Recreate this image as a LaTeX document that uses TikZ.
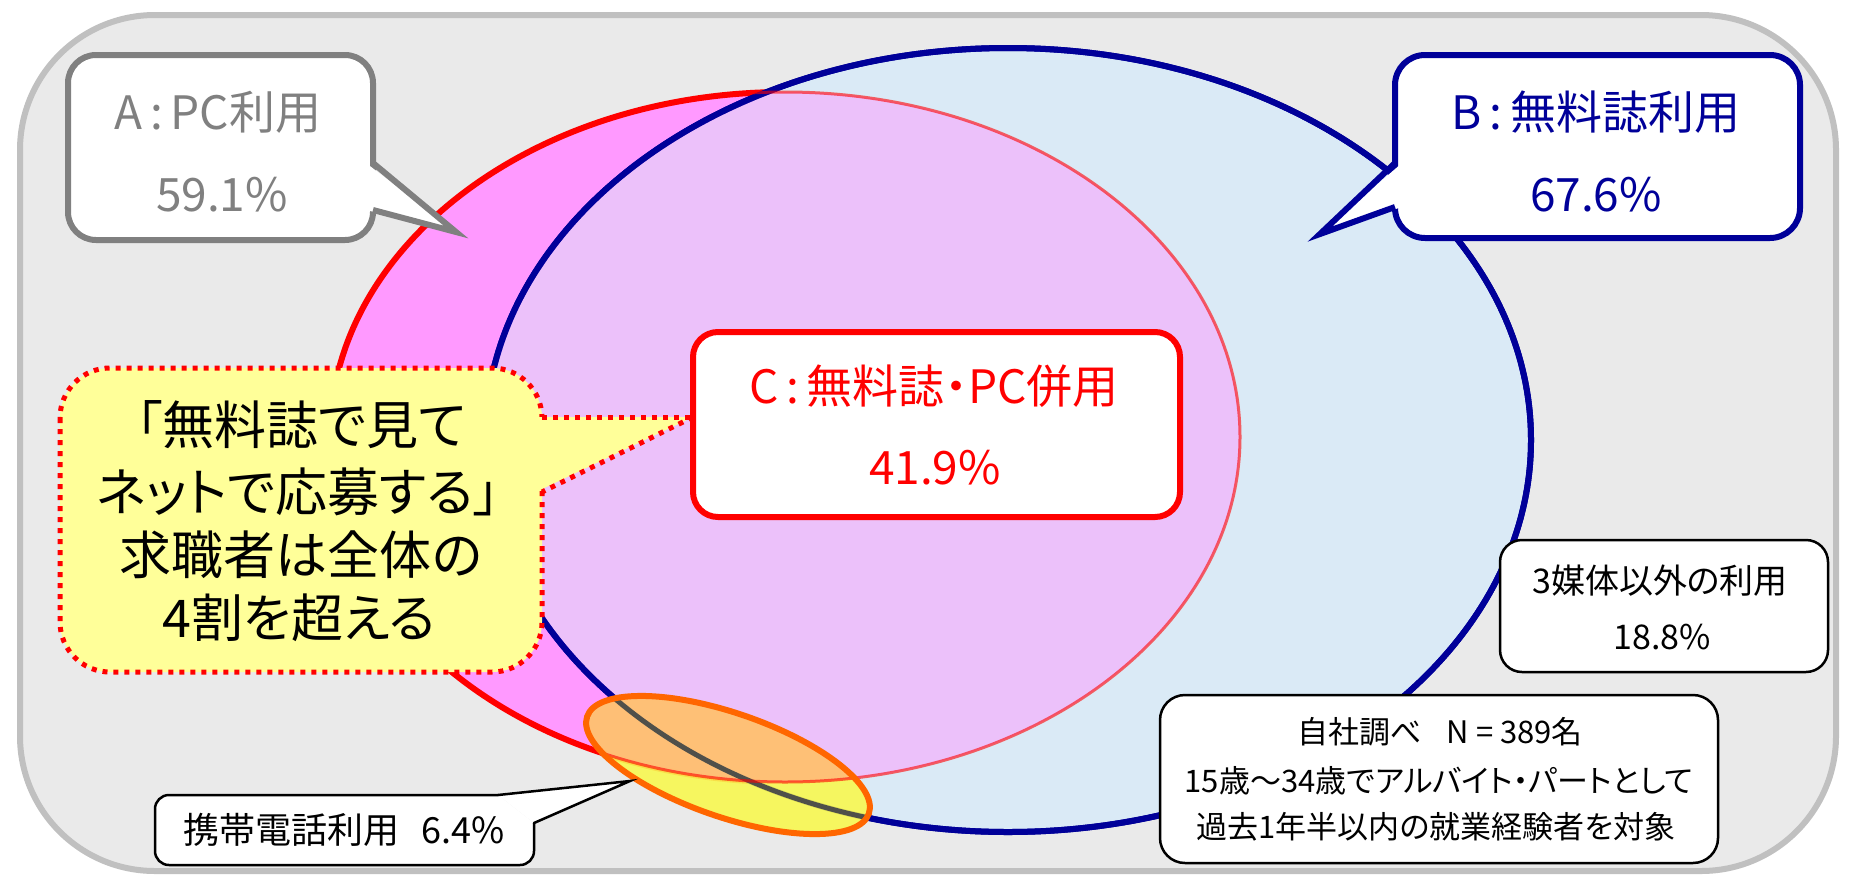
\documentclass[tikz,border=0pt]{standalone}
\usepackage{fontspec}
\setmainfont{Noto Sans CJK JP}[RawFeature=+palt]
\definecolor{framefill}{HTML}{EAEAEA}
\definecolor{framedraw}{HTML}{C0C0C0}
\definecolor{pinkA}{HTML}{FF99FF}
\definecolor{blueB}{HTML}{DAEAF6}
\definecolor{navyB}{HTML}{000099}
\definecolor{grayA}{HTML}{808080}
\definecolor{yelC}{HTML}{FFFF99}
\definecolor{mobfill}{HTML}{F8F850}
\definecolor{moborange}{HTML}{FFBC78}
\definecolor{mobline}{HTML}{FF6600}
\definecolor{darkline}{HTML}{50504A}
\begin{document}
\begin{tikzpicture}[x=1pt,y=-1pt,
  Mrot/.style={rotate around={-19:(728,765)}},
  bigtxt/.style={font=\fontsize{46}{50}\selectfont, inner sep=0pt},
  yeltxt/.style={font=\fontsize{52}{56}\selectfont, inner sep=0pt},
  mobtxt/.style={font=\fontsize{36}{40}\selectfont, inner sep=0pt},
  midtxt/.style={font=\fontsize{34}{38}\selectfont, inner sep=0pt},
  smalltxt/.style={font=\fontsize{31}{35}\selectfont, inner sep=0pt},
  dotred/.style={draw=red, line width=5pt, dash pattern=on 5pt off 6pt},
  thinbox/.style={draw=black, line width=2.5pt, fill=white},
]
\useasboundingbox (0,0) rectangle (1849,876);
\fill[white] (0,0) rectangle (1849,876);
% outer frame
\draw[line width=6pt, draw=framedraw, fill=framefill, rounded corners=135pt] (20,15) rectangle (1836,871);
% ellipse A
\fill[pinkA] (785,437) ellipse [x radius=455pt, y radius=345pt];
\draw[red, line width=6pt] (785,437) ellipse [x radius=455pt, y radius=345pt];
% ellipse B
\fill[blueB] (1008,440) ellipse [x radius=523pt, y radius=392pt];
\draw[navyB, line width=6pt] (1008,440) ellipse [x radius=523pt, y radius=392pt];
% overlay of A inside B
\begin{scope}
  \clip (1008,440) ellipse [x radius=523pt, y radius=392pt];
  \fill[pinkA, opacity=.5] (785,437) ellipse [x radius=455pt, y radius=345pt];
\end{scope}
\draw[navyB, line width=6pt] (1008,440) ellipse [x radius=523pt, y radius=392pt];
% mobile ellipse fill
\fill[mobfill, opacity=.9, Mrot] (728,765) ellipse [x radius=149pt, y radius=52pt];
\begin{scope}
  \clip[Mrot] (728,765) ellipse [x radius=149pt, y radius=52pt];
  \fill[moborange, opacity=.92] (785,437) ellipse [x radius=455pt, y radius=345pt];
  \draw[darkline, line width=5pt] (1008,440) ellipse [x radius=523pt, y radius=392pt];
\end{scope}
\draw[red, opacity=.6, line width=3pt] (785,437) ellipse [x radius=455pt, y radius=345pt];
\draw[mobline, line width=6pt, Mrot] (728,765) ellipse [x radius=149pt, y radius=52pt];

% A callout
\draw[draw=grayA, line width=6pt, fill=white, rounded corners=28pt] (68,55) rectangle (373,240);
\coordinate (Atip) at (456,232);
\fill[white] (366,163) -- (Atip) -- (366,210) -- cycle;
\draw[draw=grayA, line width=6pt, line join=miter] (373,163) -- (Atip) -- (373,210);
\node[bigtxt, text=grayA] (Atitle) at (218,112) {A\,:\,PC利用};
\node[bigtxt, text=grayA] (Apct) at (222,195) {59.1\%};

% B callout
\draw[draw=navyB, line width=6pt, fill=white, rounded corners=30pt] (1395,55) rectangle (1800,238);
\coordinate (Btip) at (1320,234);
\fill[white] (1402,163) -- (Btip) -- (1402,207) -- cycle;
\draw[navyB, line width=6pt, line join=miter] (1395,163) -- (Btip) -- (1395,207);
\node[bigtxt, text=navyB] (Btitle) at (1596,112) {B\,:\,無料誌利用};
\node[bigtxt, text=navyB] (Bpct) at (1596,195) {67.6\%};

% yellow callout
\coordinate (Ytip) at (693,417);
\draw[dotred, fill=yelC, rounded corners=50pt] (60,368) rectangle (542,672);
\fill[yelC] (536,417) -- (Ytip) -- (536,492) -- cycle;
\draw[dotred] (542,417) -- (Ytip);
\draw[dotred] (Ytip) -- (542,492);
\node[yeltxt] (Y1) at (301,425) {「無料誌で見て};
\node[yeltxt] (Y2) at (298,492) {ネットで応募する」};
\node[yeltxt] (Y3) at (301,555) {求職者は全体の};
\node[yeltxt] (Y4) at (299,618) {4割を超える};

% C box
\node[draw=red, line width=6pt, fill=white, rounded corners=25pt, minimum width=487pt, minimum height=185pt, inner sep=0pt] (Cbox) at (936.5,424.5) {};
\node[bigtxt, text=red] (Ctitle) at (934,386) {C\,:\,無料誌・PC併用};
\node[bigtxt, text=red] (Cpct) at (935,468) {41.9\%};

% other-media box
\node[thinbox, rounded corners=22pt, minimum width=328pt, minimum height=132pt, inner sep=0pt] (Obox) at (1664,606) {};
\node[midtxt] (O1) at (1660,581) {3媒体以外の利用};
\node[midtxt] (O2) at (1662,637) {18.8\%};

% survey box
\node[thinbox, rounded corners=25pt, minimum width=558pt, minimum height=168pt, inner sep=0pt] (Sbox) at (1439,779) {};
\node[smalltxt] (S1) at (1440,732) {自社調べ\hspace{0.8em}N = 389名};
\node[smalltxt] (S2) at (1439,781) {15歳～34歳でアルバイト・パートとして};
\node[smalltxt] (S3) at (1436,827) {過去1年半以内の就業経験者を対象};

% mobile label callout
\coordinate (Mtip) at (630,781);
\fill[white] (498,795) -- (Mtip) -- (534,823) -- cycle;
\draw[thinbox, line cap=round, rounded corners=14pt] (498,795) -- (155,795) -- (155,865) -- (534,865) -- (534,823);
\draw[black, line width=2.5pt, line join=miter, line cap=round] (498,795) -- (Mtip) -- (534,823);
\node[mobtxt] (Mlbl) at (344,830) {携帯電話利用\hspace{0.6em}6.4\%};
\end{tikzpicture}
\end{document}
